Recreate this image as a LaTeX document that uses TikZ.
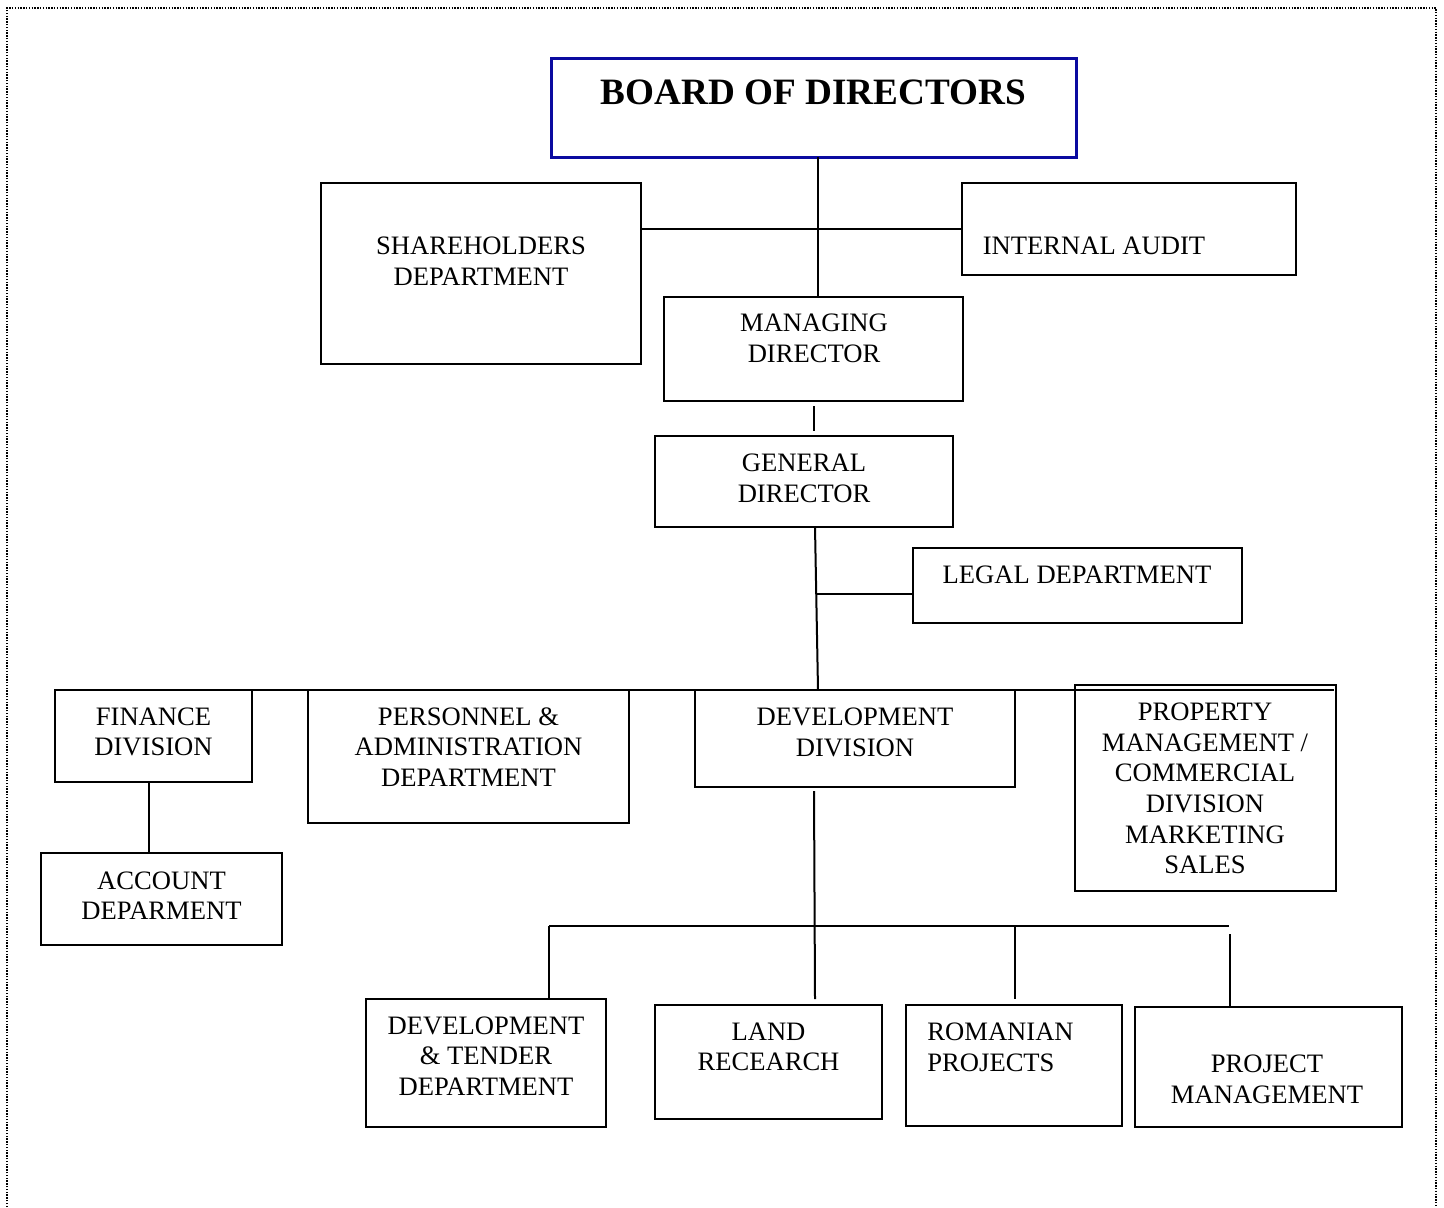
\documentclass[tikz,border=0pt]{standalone}
\usepackage{fontspec}
\setmainfont{Liberation Serif}
\definecolor{boardblue}{RGB}{10,10,160}
\begin{document}
\begin{tikzpicture}[x=0.5pt,y=-0.5pt,
  box/.style={draw,line width=1pt,inner sep=0pt,outer sep=0pt},
  heavybox/.style={box,line width=1.3pt},
  lbl/.style={align=center,inner sep=0pt,font=\fontsize{13.3}{15.3}\selectfont},
  conn/.style={line width=1pt}]
\useasboundingbox (0,0) rectangle (1444,1207);
% page frame
\draw[dash pattern=on 0.7pt off 0.7pt,line width=0.8pt] (7,1207) -- (7,8) -- (1436,8) -- (1436,1207);

% boxes
\node[box,draw=boardblue,line width=1.5pt,minimum width=262.5pt,minimum height=49.5pt] (board) at (813.5,107.5) {};
\node[box,minimum width=160pt,minimum height=90.5pt] (share) at (481,273.5) {};
\node[box,minimum width=167pt,minimum height=46pt] (audit) at (1129,229) {};
\node[box,minimum width=149.5pt,minimum height=52pt] (md) at (813.5,349) {};
\node[box,minimum width=149pt,minimum height=45.5pt] (gd) at (804,481.5) {};
\node[box,minimum width=164.5pt,minimum height=37.5pt] (legal) at (1077.5,585.5) {};
\node[box,minimum width=98.5pt,minimum height=46pt] (fin) at (153.5,736) {};
\node[box,minimum width=160.5pt,minimum height=66.5pt] (pers) at (468.5,756.5) {};
\node[box,minimum width=160pt,minimum height=48.5pt] (dev) at (855,738.5) {};
\node[heavybox,minimum width=130.5pt,minimum height=103pt] (prop) at (1205.5,788) {};
\node[heavybox,minimum width=120.5pt,minimum height=46pt] (acct) at (161.5,899) {};
\node[heavybox,minimum width=120pt,minimum height=64pt] (dt) at (486,1063) {};
\node[box,minimum width=113.5pt,minimum height=57pt] (land) at (768.5,1062) {};
\node[box,minimum width=108pt,minimum height=60.5pt] (rom) at (1014,1065.5) {};
\node[box,minimum width=133.5pt,minimum height=60pt] (pm) at (1268.5,1067) {};

% texts
\node[inner sep=0pt,font=\fontsize{18.6}{21}\selectfont\bfseries] (tboard) at (813.5,92) {BOARD OF DIRECTORS};
\node[lbl] (tshare) at (481,261.5) {SHAREHOLDERS\\DEPARTMENT};
\node[lbl] (taudit) at (1094,246) {INTERNAL AUDIT};
\node[lbl] (tmd) at (814,338.5) {MANAGING\\DIRECTOR};
\node[lbl] (tgd) at (804,478.5) {GENERAL\\DIRECTOR};
\node[lbl] (tlegal) at (1077,575) {LEGAL DEPARTMENT};
\node[lbl] (tfin) at (153.5,732) {FINANCE\\DIVISION};
\node[lbl] (tpers) at (468.5,747) {PERSONNEL \&\\ADMINISTRATION\\DEPARTMENT};
\node[lbl] (tdev) at (855,732.5) {DEVELOPMENT\\DIVISION};
\node[lbl] (tprop) at (1205,788.5) {PROPERTY\\MANAGEMENT /\\COMMERCIAL\\DIVISION\\MARKETING\\SALES};
\node[lbl] (tacct) at (161.5,895.5) {ACCOUNT\\DEPARMENT};
\node[lbl] (tdt) at (486,1056) {DEVELOPMENT\\\& TENDER\\DEPARTMENT};
\node[lbl] (tland) at (768.5,1047) {LAND\\RECEARCH};
\node[lbl,align=left,anchor=west] (trom) at (927,1047) {ROMANIAN\\PROJECTS};
\node[lbl] (tpm) at (1267,1079.5) {PROJECT\\MANAGEMENT};

% helper coordinates
\coordinate (xa) at (818,0);
\coordinate (xb) at (814,0);
\coordinate (xg) at (815,0);
\coordinate (gdend) at (818,690);
\coordinate (lj) at (817,594);
\coordinate (barR) at (1334,690);
\coordinate (xf) at (149,0);
\coordinate (devend) at (815,999);
\coordinate (subL) at (549,926);
\coordinate (subR) at (1229,926);
\coordinate (xr) at (1015,0);
\coordinate (xp) at (1230,0);

% connectors
\draw[conn] (board.south -| xa) -- (md.north -| xa);
\draw[conn] (audit.west -| share.east) -- (audit.west);
\draw[conn] ([yshift=-2.5pt]md.south -| xb) -- ([yshift=2.5pt]gd.north -| xb);
\draw[conn] (gd.south -| xg) -- (gdend);
\draw[conn] (lj) -- (lj -| legal.west);
\draw[conn] (fin.north west) -- (barR);
\draw[conn] (fin.south -| xf) -- (acct.north -| xf);
\draw[conn] ([yshift=-2pt]dev.south -| xb) -- (devend);
\draw[conn] (subL) -- (subR);
\draw[conn] (subL) -- (dt.north -| subL);
\draw[conn] (subL -| xr) -- ([yshift=3pt]rom.north -| xr);
\draw[conn] ([yshift=-4pt]subR -| xp) -- (pm.north -| xp);
\end{tikzpicture}
\end{document}
